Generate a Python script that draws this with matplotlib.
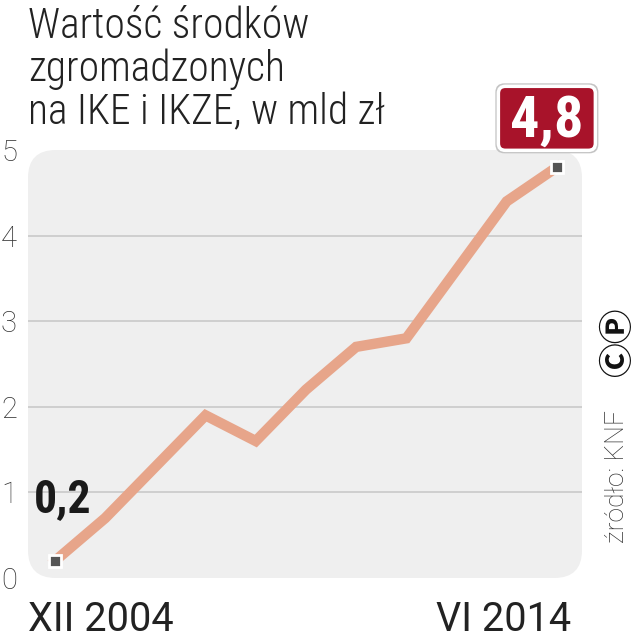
import matplotlib
matplotlib.use('Agg')
import matplotlib.pyplot as plt
from matplotlib.patches import FancyBboxPatch
from matplotlib.transforms import ScaledTranslation

# === Data (mld zł) ===
values = [0.2, 0.7, 1.3, 1.9, 1.6, 2.2, 2.7, 2.8, 3.6, 4.4, 4.8]
x_labels = ['XII 2004', 'VI 2014']
y_ticks = [0, 1, 2, 3, 4, 5]
title_lines = ['Wartość środków', 'zgromadzonych', 'na IKE i IKZE, w mld zł']
source = 'źródło: KNF'

cond = ['Roboto Condensed', 'Roboto', 'DejaVu Sans']
reg = ['Roboto', 'DejaVu Sans']
sym_fonts = ['Noto Sans CJK SC', 'DejaVu Sans']

x = list(range(len(values)))

fig = plt.figure(figsize=(6.35, 6.40), dpi=100)
ax = fig.add_axes([28 / 635, 62 / 640, 554 / 635, 428 / 640])
ax.set_xlim(-0.538, 10.5)
ax.set_ylim(0, 5)
ax.patch.set_visible(False)
for s in ax.spines.values():
    s.set_visible(False)

# === Rounded grey panel ===
panel = FancyBboxPatch((0, 0), 1, 1, boxstyle='round,pad=0,rounding_size=0.05',
                       mutation_aspect=554 / 428, transform=ax.transAxes,
                       facecolor='#efefef', edgecolor='none', zorder=0, clip_on=False)
ax.add_patch(panel)

for v in y_ticks[1:-1]:
    ax.axhline(v, color='#c9c9c9', lw=1.2, zorder=1)

# === Line + end markers ===
ax.plot(x, values, color='#e7a58a', lw=7.5, solid_joinstyle='miter', zorder=2, clip_on=False)
ax.plot([x[0], x[-1]], [values[0], values[-1]], ls='none', marker='s', ms=8,
        mfc='#555555', mec='white', mew=2, zorder=3, clip_on=False)

ax.set_xticks([])
ax.set_yticks(y_ticks)
ax.set_yticklabels([str(t) for t in y_ticks], fontsize=21, color='#333333',
                   fontfamily=reg, fontweight='light')
ax.tick_params(axis='y', length=0, pad=8)

# === Value labels ===
ax.text(x[0] - 0.42, values[0] + 0.47, f'{values[0]:.1f}'.replace('.', ','),
        fontsize=33, fontweight='bold', color='#1a1a1a', fontfamily=cond,
        ha='left', va='bottom')

# red box above the last point
box_pos = ScaledTranslation(x[-1] - 0.2, values[-1] + 0.57, ax.transData)
shadow = FancyBboxPatch((-0.515, -0.35), 1.03, 0.70,
                        boxstyle='round,pad=0,rounding_size=0.09',
                        transform=fig.dpi_scale_trans + box_pos,
                        fc='#c4c4c4', ec='none', zorder=4, clip_on=False)
box = FancyBboxPatch((-0.485, -0.32), 0.97, 0.64,
                     boxstyle='round,pad=0,rounding_size=0.07',
                     transform=fig.dpi_scale_trans + box_pos,
                     fc='#a8132a', ec='white', lw=2.5, zorder=5, clip_on=False)
ax.add_patch(shadow)
ax.add_patch(box)
ax.text(x[-1] - 0.2, values[-1] + 0.35, f'{values[-1]:.1f}'.replace('.', ','),
        fontsize=42, fontweight='bold', color='white', fontfamily=cond,
        ha='center', va='baseline', zorder=6)

# === Title ===
for i, line in enumerate(title_lines):
    fig.text(28 / 635, 1 - (38 + 43 * i) / 640, line, fontsize=30, color='#222222',
             fontfamily=cond, fontweight='light', ha='left', va='baseline')

# === X labels ===
fig.text(28 / 635, 1 - 631 / 640, x_labels[0], fontsize=28.5, color='#222222',
         fontfamily=reg, ha='left', va='baseline')
fig.text(571 / 635, 1 - 631 / 640, x_labels[1], fontsize=28.5, color='#222222',
         fontfamily=reg, ha='right', va='baseline')

# === Source ===
fig.text(617 / 635, 1 - 543 / 640, source, rotation=90, fontsize=19, color='#333333',
         fontfamily=reg, fontweight='light', ha='center', va='bottom')
fig.text(618 / 635, 1 - 377 / 640, 'ⒸⓅ', rotation=90, fontsize=25, color='#111111',
         fontweight='heavy', fontfamily=sym_fonts, ha='center', va='bottom')

fig.savefig('out.png', dpi=100)
